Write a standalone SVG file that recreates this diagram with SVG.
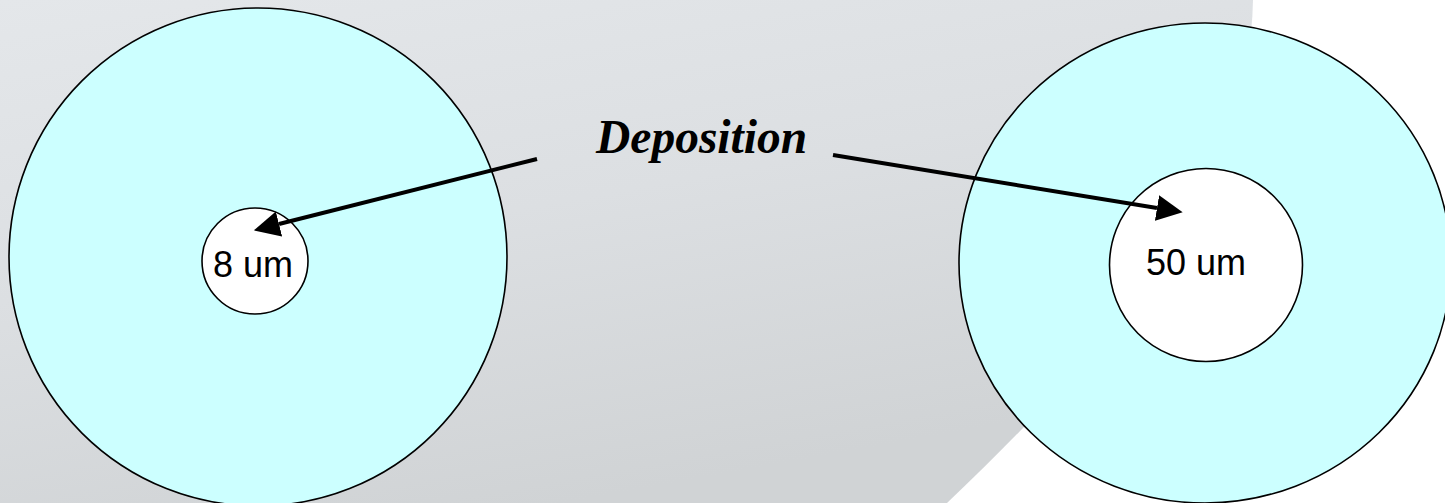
<svg xmlns="http://www.w3.org/2000/svg" width="1445" height="503" viewBox="0 0 1445 503">
  <defs>
    <linearGradient id="bgGray" x1="0" y1="0" x2="0.45" y2="1">
      <stop offset="0" stop-color="#e4e7ea"/>
      <stop offset="0.5" stop-color="#dcdfe2"/>
      <stop offset="1" stop-color="#d0d3d5"/>
    </linearGradient>
    <marker id="arrowHead" markerUnits="userSpaceOnUse" markerWidth="28" markerHeight="28"
            refX="0" refY="13" orient="auto">
      <path d="M0,0 L26,13 L0,26 Z" fill="#000"/>
    </marker>
    <style>
      .cladding { fill: #ccffff; stroke: #000; stroke-width: 1.6; }
      .core { fill: #ffffff; stroke: #000; stroke-width: 1.6; }
      .size { font-family: "Liberation Sans", Arial, sans-serif; font-size: 36px; fill: #000; text-anchor: middle; }
      .title { font-family: "Liberation Serif", "Times New Roman", serif; font-size: 47.5px; font-weight: bold; font-style: italic; fill: #000; }
      .arrow { stroke: #000; stroke-width: 4; fill: none; marker-end: url(#arrowHead); }
    </style>
  </defs>

  <!-- backdrop: white page with a large shaded sweep on the left -->
  <rect x="0" y="0" width="1445" height="503" fill="#ffffff"/>
  <path d="M0,0 L1253,0 C1250,170 1130,330 947,503 L0,503 Z" fill="url(#bgGray)"/>

  <!-- fiber with 8 um core -->
  <g id="fiber-small">
    <circle class="cladding" cx="258" cy="257" r="249"/>
    <circle class="core" cx="255" cy="261" r="53"/>
    <text class="size" x="253" y="277">8 um</text>
  </g>

  <!-- fiber with 50 um core -->
  <g id="fiber-large">
    <ellipse class="cladding" cx="1205" cy="263" rx="246" ry="240"/>
    <circle class="core" cx="1206" cy="265" r="96.5"/>
    <text class="size" x="1196" y="275">50 um</text>
  </g>

  <!-- process label -->
  <g id="label-deposition">
    <text class="title" x="596" y="153">Deposition</text>
  </g>

  <!-- arrows from the label into each core -->
  <g id="connectors">
    <line class="arrow" x1="537" y1="159" x2="279" y2="224"/>
    <line class="arrow" x1="833" y1="155" x2="1157" y2="208"/>
  </g>
</svg>
